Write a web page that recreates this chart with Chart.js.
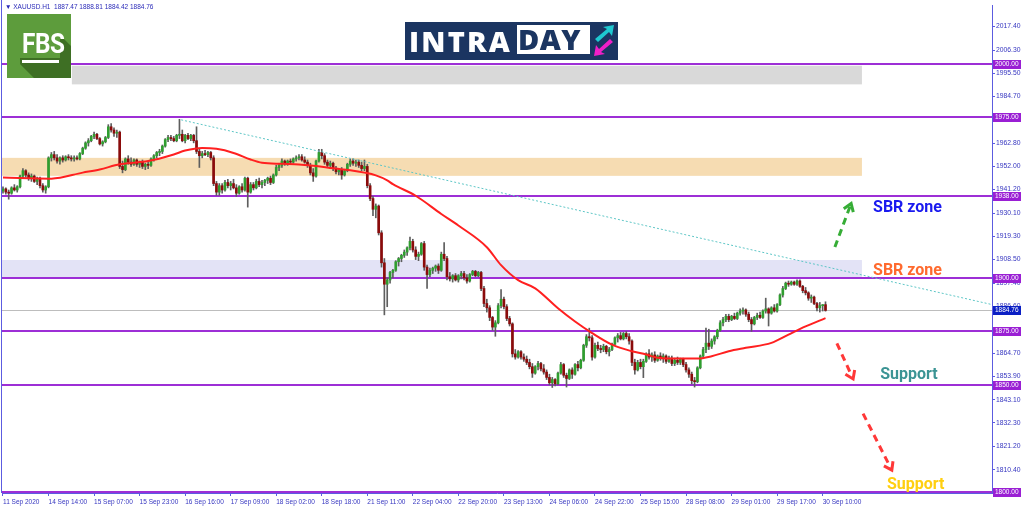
<!DOCTYPE html>
<html><head><meta charset="utf-8">
<script src="https://cdn.jsdelivr.net/npm/chart.js@4.4.0/dist/chart.umd.min.js"></script>
<style>
html,body{margin:0;padding:0;background:#fff;overflow:hidden}
#wrap{position:relative;width:1024px;height:511px}
#c{position:absolute;left:0;top:0}
#hdr{position:absolute;left:5px;top:3px;font:6.5px 'Liberation Sans',Arial,sans-serif;color:#2a2ab8;white-space:nowrap;line-height:8px}
#fbs{position:absolute;left:7px;top:14px;width:64px;height:64px;background:#5d9c3c;overflow:hidden}
#fbs .sh{position:absolute;left:0;top:0;width:64px;height:64px;background:#3e6f24;clip-path:polygon(53px 21px,64px 32px,64px 64px,27px 64px,13px 50px,13px 44px,53px 44px)}
#fbs .t{position:absolute;left:13px;top:14px;width:42px;text-align:center;font:700 27px 'Roboto',sans-serif;color:#fff;letter-spacing:-0.5px;transform:scaleX(0.9)}
#fbs .u{position:absolute;left:15px;top:46px;width:37px;height:3px;background:#fff}
#intra{position:absolute;left:405px;top:22px;width:213px;height:38px;background:#1b3561}
#intra .a{position:absolute;left:4px;top:1px;font:800 29px 'Open Sans',sans-serif;color:#fff;letter-spacing:2.2px;line-height:36px}
#intra .b{position:absolute;left:112px;top:3px;width:73px;height:29px;background:#fff}
#intra .b span{position:absolute;left:1px;top:-4px;font:800 29px 'Open Sans',sans-serif;color:#1b3561;letter-spacing:0.5px;line-height:36px}
#intra svg{position:absolute;left:186px;top:2px}
</style></head>
<body><div id="wrap">
<canvas id="c" width="1024" height="511"></canvas>
<div id="hdr">&#9660; XAUUSD.H1&nbsp; 1887.47 1888.81 1884.42 1884.76</div>
<div id="fbs"><div class="sh"></div><div class="t">FBS</div><div class="u"></div></div>
<div id="intra"><div class="a">INTRA</div><div class="b"><span>DAY</span></div>
<svg width="26" height="34" viewBox="0 0 26 34"><polygon points="4,15 16,5 12,3 23,1 21,12 18,8 7,18" fill="#1ec8d0"/><polygon points="22,18 10,28 14,30 3,32 5,21 8,25 19,15" fill="#f01fc8"/></svg>
</div>
</div>
<script>
// ---- data ----
const xTickIdx = [0,16,32,48,64,80,96,112,128,144,160,176,192,208,224,240,256,272,288];
const xTickLabels = ["11 Sep 2020","14 Sep 14:00","15 Sep 07:00","15 Sep 23:00","16 Sep 16:00","17 Sep 09:00","18 Sep 02:00","18 Sep 18:00","21 Sep 11:00","22 Sep 04:00","22 Sep 20:00","23 Sep 13:00","24 Sep 06:00","24 Sep 22:00","25 Sep 15:00","28 Sep 08:00","29 Sep 01:00","29 Sep 17:00","30 Sep 10:00"];
const yTicks = [2017.40,2006.30,1995.50,1984.70,1973.90,1962.80,1952.00,1941.20,1930.10,1919.30,1908.50,1897.40,1886.60,1875.80,1864.70,1853.90,1843.10,1832.30,1821.20,1810.40];
const levels = [2000,1975,1938,1900,1875,1850,1800];
const bidPrice = 1884.76;

const opens = [
1940.5,1941.5,1940,1939.5,1942,1941,1942.5,1947.5,1950,1948,
1946.5,1947.5,1945,1946.5,1943,1941,1942.5,1956,1957.5,1956,
1954.5,1956,1955,1956.5,1956,1955.5,1956,1955.5,1958,1960.5,
1963,1964,1966,1967,1965,1962.5,1963.5,1965.5,1970.5,1969,
1967.5,1968,1952,1950.5,1955.5,1954,1953,1955,1953,1954,
1952,1953,1952.5,1955.5,1957,1958.5,1959,1961.5,1964.5,1965.5,
1965,1964,1966.5,1967,1964,1966.5,1965,1966.5,1964,1959,
1957,1958,1957.5,1958.5,1956,1944,1940,1943,1941,1944.5,
1943,1944,1942,1939.5,1942.5,1941,1946.5,1940,1943.5,1942,
1945,1943.5,1944.5,1945.5,1946.5,1944.5,1948,1951.5,1952.5,1954.5,
1953.5,1954.5,1954,1955.5,1956,1956.5,1955,1954,1952.5,1949,
1947.5,1954.5,1958.5,1957,1954,1952.5,1953.5,1951,1949.5,1950.5,
1948,1950,1953,1954.5,1953.5,1954,1952.5,1951,1952,1943,
1937,1932,1933.5,1921,1907,1897,1899,1902.5,1903.5,1907.5,
1909,1910.5,1912,1914,1917,1913,1910,1911,1916,1905,
1901.5,1903.5,1904.5,1905.5,1903.5,1911,1909,1900.5,1899.5,1901,
1899,1901,1902,1900,1898.5,1901.5,1903,1901,1902.5,1895,
1888,1886,1881.5,1877,1879,1887,1890,1886.5,1881,1878.5,
1864.5,1863,1865.5,1863,1862,1860.5,1858.5,1855.5,1858.5,1860,
1857.5,1856,1853.5,1851,1852.5,1850.5,1855.5,1859.5,1854.5,1853,
1857,1855,1859.5,1858,1861.5,1868.5,1872.5,1872,1863,1868.5,
1867,1866.5,1868,1865.5,1866.5,1869,1872,1873,1871.5,1874,
1872.5,1870.5,1860.5,1857,1860.5,1858.5,1861,1864.5,1863,1864,
1861.5,1863.5,1862.5,1863.5,1861,1862.5,1860,1861.5,1860.5,1862,
1859.5,1857,1855,1852,1851.5,1858,1863.5,1866.5,1869.5,1868,
1870.5,1872.5,1875.5,1879,1880.5,1882,1880.5,1882,1881,1883.5,
1884.5,1885,1883,1880.5,1878.5,1881.5,1882.5,1881.5,1884.5,1885.5,
1883.5,1886,1884.5,1887.5,1892,1895,1897.5,1897,1898,1897,
1898.5,1896,1894,1893,1890.5,1891,1888,1886,1887,1887.47];
const highs = [
1942.5,1942,1941,1942.5,1943.5,1943,1948,1951,1950.5,1949,
1948.5,1948,1947,1947,1944,1943,1956.5,1958.5,1959,1957.5,
1956.5,1957,1957,1957.5,1957,1957,1957,1958.5,1961,1963.5,
1965,1966.5,1968,1967.5,1965.5,1964,1966,1971.5,1972,1970,
1969,1968.5,1954.5,1956,1957,1956,1955.5,1955.5,1954.5,1955,
1953.5,1954,1956,1957.5,1959,1960,1962,1965,1966.5,1966.5,
1966,1967,1974,1969,1967,1967.5,1967,1967,1970.5,1960,
1959,1959.5,1959,1959,1957,1945,1944,1944,1945.5,1946,
1945,1946,1943.5,1943,1944,1947,1947,1944.5,1944.5,1946,
1946.5,1945.5,1946,1947,1947.5,1948.5,1952.5,1953.5,1955.5,1955,
1955,1955.5,1956,1957,1957.5,1957.5,1956.5,1955,1953.5,1951,
1955,1960,1960,1958,1955,1954.5,1954,1952,1951,1951.5,
1950.5,1953.5,1955.5,1955.5,1955,1955,1954,1955,1953,1944,
1938,1934.5,1934,1922,1909,1900,1903,1904,1908,1909.5,
1911,1913,1914.5,1919,1918,1914.5,1912,1916.5,1917,1906,
1904.5,1905,1906,1906.5,1912,1916.5,1910,1902.5,1901.5,1902,
1901.5,1903,1903,1901.5,1902,1903.5,1903.5,1903,1903,1896,
1890,1887,1882,1880,1888,1894.5,1891,1887.5,1882,1879,
1866.5,1866,1866,1864.5,1863.5,1862,1860,1859,1861,1860.5,
1859.5,1857,1855,1853.5,1853,1856,1860.5,1860,1855.5,1857.5,
1858,1860,1861,1862,1869,1873.5,1876.5,1873,1869.5,1870,
1868.5,1869,1868.5,1867.5,1869.5,1872.5,1874,1874.5,1874.5,1875,
1874,1871,1862,1861.5,1862,1862,1865,1866.5,1865,1865.5,
1864,1865,1864.5,1864,1863.5,1863.5,1862.5,1863,1862.5,1862.5,
1860.5,1858,1856,1853.5,1858.5,1864,1867.5,1876.5,1876,1871.5,
1873,1876,1880,1881.5,1883,1883,1882.5,1883.5,1884,1885.5,
1886,1885.5,1884,1881.5,1882,1883.5,1884,1885,1890.5,1886,
1886.5,1887.5,1888,1892.5,1896,1898,1898.5,1898.5,1898.5,1899,
1899,1896.5,1895.5,1893.5,1892,1891.5,1888.5,1888.5,1887.5,1888.81];
const lows = [
1939.5,1939,1936.7,1939,1940.5,1940,1942,1946.5,1947,1945.5,
1945,1944.5,1943.5,1942,1940,1939.5,1942,1954.5,1955,1953.5,
1953,1954,1954.5,1955,1954.5,1954.5,1955,1955,1957.5,1960,
1961.5,1963.5,1965,1964.5,1962,1961.5,1963,1965,1968,1966,
1965.5,1951,1949,1950,1953,1952,1952.5,1952,1951.5,1951,
1950.5,1951,1952,1954.5,1956,1957,1958,1961,1963.5,1964,
1963.5,1963.5,1965,1963.5,1963,1964.5,1964,1963,1958,1951.5,
1956,1957,1956.5,1955,1943,1938.5,1938.5,1939.5,1940.5,1942,
1941,1941.5,1938,1939,1940,1940.5,1933,1939.5,1941,1941.5,
1942.5,1942,1943,1944,1943.5,1944,1947.5,1950,1951.5,1952.5,
1952.5,1953,1953.5,1954.5,1955,1954.5,1953.5,1951.5,1948,1945,
1947,1954,1955.5,1953,1951.5,1951,1950,1948.5,1948,1946,
1947.5,1949.5,1952,1952.5,1952,1951.5,1950,1950,1942,1936,
1929,1928,1920,1905,1882.7,1886.5,1897.5,1900,1903,1905.5,
1907.5,1909.5,1910.5,1913,1912,1908.5,1908,1910.5,1903.5,1895,
1900.5,1902,1903,1902,1903,1908,1899,1898.5,1898,1898.5,
1898,1899.5,1899,1897.5,1898,1901,1900.5,1900.5,1894,1886.5,
1884,1880,1875.5,1872.7,1878.5,1886,1885.5,1880,1877.5,1863,
1862,1862.5,1862,1861,1859.5,1857.5,1853.5,1855,1857,1856.5,
1855,1852.5,1850,1848.8,1849.5,1850,1855,1853.5,1849,1852.5,
1853,1854.5,1856.5,1857.5,1861,1867.5,1870.5,1861.5,1862.5,1866,
1865,1865.5,1864.5,1863.5,1866,1868.5,1870,1871,1871,1871.5,
1869,1859,1855,1856.5,1857.5,1853.4,1860.5,1862,1861,1860.5,
1861,1861.5,1860.5,1860,1860.5,1859,1859,1859.5,1859.5,1858.5,
1856,1853.5,1850.5,1849,1851,1857.5,1862.5,1865,1866.5,1867,
1869,1871.5,1875,1877.5,1879.5,1879.5,1880,1880.5,1880.5,1882.5,
1883,1882,1879.5,1875,1878,1880.5,1881,1881,1883.5,1877.5,
1883,1884,1884,1887,1891,1894.5,1896,1896.5,1896.5,1896.5,
1895.5,1893,1892,1889.5,1888.5,1887.5,1884.5,1884,1884.5,1884.42];
const closes = [
1941.5,1940,1939.5,1942,1941,1942.5,1947.5,1950,1948,1946.5,
1947.5,1945,1946.5,1943,1941,1942.5,1956,1957.5,1956,1954.5,
1956,1955,1956.5,1956,1955.5,1956,1955.5,1958,1960.5,1963,
1964,1966,1967,1965,1962.5,1963.5,1965.5,1970.5,1969,1967.5,
1968,1952,1950.5,1955.5,1954,1953,1955,1953,1954,1952,
1953,1952.5,1955.5,1957,1958.5,1959,1961.5,1964.5,1965.5,1965,
1964,1966.5,1967,1964,1966.5,1965,1966.5,1964,1959,1957,
1958,1957.5,1958.5,1956,1944,1940,1943,1941,1944.5,1943,
1944,1942,1939.5,1942.5,1941,1946.5,1940,1943.5,1942,1945,
1943.5,1944.5,1945.5,1946.5,1944.5,1948,1951.5,1952.5,1954.5,1953.5,
1954.5,1954,1955.5,1956,1956.5,1955,1954,1952.5,1949,1947.5,
1954.5,1958.5,1957,1954,1952.5,1953.5,1951,1949.5,1950.5,1948,
1950,1953,1954.5,1953.5,1954,1952.5,1951,1952,1943,1937,
1932,1933.5,1921,1907,1897,1899,1902.5,1903.5,1907.5,1909,
1910.5,1912,1914,1917,1913,1910,1911,1916,1905,1901.5,
1903.5,1904.5,1905.5,1903.5,1911,1909,1900.5,1899.5,1901,1899,
1901,1902,1900,1898.5,1901.5,1903,1901,1902.5,1895,1888,
1886,1881.5,1877,1879,1887,1890,1886.5,1881,1878.5,1864.5,
1863,1865.5,1863,1862,1860.5,1858.5,1855.5,1858.5,1860,1857.5,
1856,1853.5,1851,1852.5,1850.5,1855.5,1859.5,1854.5,1853,1857,
1855,1859.5,1858,1861.5,1868.5,1872.5,1872,1863,1868.5,1867,
1866.5,1868,1865.5,1866.5,1869,1872,1873,1871.5,1874,1872.5,
1870.5,1860.5,1857,1860.5,1858.5,1861,1864.5,1863,1864,1861.5,
1863.5,1862.5,1863.5,1861,1862.5,1860,1861.5,1860.5,1862,1859.5,
1857,1855,1852,1851.5,1858,1863.5,1866.5,1869.5,1868,1870.5,
1872.5,1875.5,1879,1880.5,1882,1880.5,1882,1881,1883.5,1884.5,
1885,1883,1880.5,1878.5,1881.5,1882.5,1881.5,1884.5,1885.5,1883.5,
1886,1884.5,1887.5,1892,1895,1897.5,1897,1898,1897,1898.5,
1896,1894,1893,1890.5,1891,1888,1886,1887,1887.47,1884.76];

// moving average read at selected bars
const maIdx = [0,17,28,34,41,51,60,64,70,75,81,87,91,98,104,110,116,122,127,131,135,137,145,154,160,170,175,181,187,195,201,207,214,221,226,230,237,244,249,255,261,270,276,282,289];
const maVal = [1946.8,1946.3,1949.1,1950.6,1953.0,1954.5,1957.6,1959.4,1960.6,1960.2,1958.3,1955.2,1953.7,1953.2,1952.9,1952.2,1951.1,1950.2,1949.1,1947.8,1945.5,1943.7,1938.3,1929.8,1924.4,1914.3,1905.9,1898.9,1895.1,1885.8,1879.6,1874.2,1868.8,1865.7,1864.2,1862.7,1862.3,1862.3,1863.4,1865.7,1867.3,1869.6,1873.5,1877.3,1881.2];

// trend line (bar index, price)
const trendIdx = [62.6, 347.5];
const trendVal = [1973.75, 1887.5];

// zones: [fromBar (null = left edge), toBar, low, high]
const zoneGray = [24.2, 301.8, 1990.3, 1999.0];
const zoneOrange = [null, 301.8, 1947.6, 1956.0];
const zoneLav = [null, 301.8, 1900.0, 1908.3];

// arrows: [fromBar, fromPrice, toBar, toPrice]
const arrowUp = [292.3, 1914.4, 298.0, 1934.7];
const arrowDn1 = [293.0, 1869.4, 298.7, 1852.8];
const arrowDn2 = [302.2, 1836.6, 312.3, 1810.2];

// annotation labels: [text, bar, price]
const noteTexts = ["SBR zone","SBR zone","Support","Support"];
const noteBars = [305.7, 305.7, 308.2, 310.6];
const notePrices = [1932.4, 1903.2, 1854.4, 1803.2];

// ---- chart ----
const wickData = closes.map((c,i)=>({x:i, y:[lows[i], highs[i]]}));
const bodyData = closes.map((c,i)=>({x:i, y:[opens[i], c]}));
const bodyColors = closes.map((c,i)=> c >= opens[i] ? '#2f9e2f' : '#8b0b0b');
const maData = maIdx.map((b,k)=>({x:b, y:maVal[k]}));
const trendData = trendIdx.map((b,k)=>({x:b, y:trendVal[k]}));

const AX = '#5c5ce0', TXT = '#3535c0', LVL = '#9d2fd6';
const noteColors = ['#1a1aef','#ff6a2e','#3b9494','#ffcf10'];

const overlay = {
  id:'overlay',
  beforeDatasetsDraw(chart){
    const {ctx, chartArea:a, scales:{x,y}} = chart;
    ctx.save();
    ctx.beginPath(); ctx.rect(a.left, a.top, a.right-a.left, a.bottom-a.top); ctx.clip();
    const zone=(z,col)=>{
      const x0 = z[0]===null ? a.left : x.getPixelForValue(z[0]);
      const x1 = x.getPixelForValue(z[1]);
      const y0 = y.getPixelForValue(z[3]), y1 = y.getPixelForValue(z[2]);
      ctx.fillStyle = col; ctx.fillRect(x0, y0, x1-x0, y1-y0);
    };
    zone(zoneGray,'#d9d9d9');
    zone(zoneOrange,'#f6dcb2');
    zone(zoneLav,'#e3e3f6');
    ctx.strokeStyle='#bdbdbd'; ctx.lineWidth=1;
    let yb = Math.round(y.getPixelForValue(bidPrice))+0.5;
    ctx.beginPath(); ctx.moveTo(a.left,yb); ctx.lineTo(a.right,yb); ctx.stroke();
    ctx.strokeStyle=LVL; ctx.lineWidth=2;
    levels.forEach(v=>{
      const yy = Math.round(y.getPixelForValue(v));
      ctx.beginPath(); ctx.moveTo(a.left,yy); ctx.lineTo(a.right,yy); ctx.stroke();
    });
    ctx.restore();
  },
  afterDraw(chart){
    const {ctx, chartArea:a, scales:{x,y}} = chart;
    ctx.save();
    ctx.strokeStyle=AX; ctx.lineWidth=1;
    ctx.beginPath(); ctx.moveTo(a.left-0.5,0); ctx.lineTo(a.left-0.5,a.bottom); ctx.stroke();
    const arrow=(ar,col)=>{
      const x0=x.getPixelForValue(ar[0]), y0=y.getPixelForValue(ar[1]);
      const x1=x.getPixelForValue(ar[2]), y1=y.getPixelForValue(ar[3]);
      const ang=Math.atan2(y1-y0,x1-x0);
      ctx.strokeStyle=col; ctx.lineWidth=3; ctx.lineCap='butt';
      ctx.setLineDash([7,5]);
      ctx.beginPath(); ctx.moveTo(x0,y0); ctx.lineTo(x1-Math.cos(ang)*3,y1-Math.sin(ang)*3); ctx.stroke();
      ctx.setLineDash([]);
      const L=9, s=0.6;
      ctx.beginPath();
      ctx.moveTo(x1-L*Math.cos(ang-s), y1-L*Math.sin(ang-s));
      ctx.lineTo(x1,y1);
      ctx.lineTo(x1-L*Math.cos(ang+s), y1-L*Math.sin(ang+s));
      ctx.stroke();
    };
    arrow(arrowUp,'#36ad36');
    arrow(arrowDn1,'#ff3838');
    arrow(arrowDn2,'#ff3838');
    ctx.font='700 16px Roboto, sans-serif'; ctx.textBaseline='middle'; ctx.textAlign='left';
    noteTexts.forEach((t,k)=>{
      ctx.fillStyle=noteColors[k];
      ctx.fillText(t, x.getPixelForValue(noteBars[k]), y.getPixelForValue(notePrices[k]));
    });
    const tag=(v,bg)=>{
      const yy=Math.round(y.getPixelForValue(v));
      ctx.fillStyle=bg; ctx.fillRect(a.right+1, yy-4, 28, 9);
      ctx.fillStyle='#fff'; ctx.font='6.5px "Liberation Sans", Arial, sans-serif';
      ctx.textBaseline='middle'; ctx.textAlign='left';
      ctx.fillText(v.toFixed(2), a.right+3, yy+0.5);
    };
    levels.forEach(v=>tag(v,'#9a1fd4'));
    tag(bidPrice,'#0b1fc4');
    ctx.restore();
  }
};

new Chart(document.getElementById('c'), {
  type:'bar',
  data:{datasets:[
    {type:'line', data:trendData, borderColor:'#5ec6c6', borderWidth:1, borderDash:[2,2], pointRadius:0, order:0},
    {type:'line', data:maData, borderColor:'#ff2020', borderWidth:2, pointRadius:0, tension:0.4, cubicInterpolationMode:'monotone', order:1},
    {data:bodyData, backgroundColor:bodyColors, barThickness:2, grouped:false, minBarLength:1, order:2},
    {data:wickData, backgroundColor:'#5e5e5e', barThickness:1, grouped:false, order:3}
  ]},
  options:{
    responsive:false, animation:false, devicePixelRatio:1, events:[],
    layout:{padding:{left:2, top:1, right:0, bottom:0}},
    plugins:{legend:{display:false}, tooltip:{enabled:false}},
    scales:{
      x:{type:'linear', position:'bottom', min:-0.35, max:347.5, offset:false,
        afterBuildTicks:s=>{ s.ticks = xTickIdx.map(v=>({value:v})); },
        afterFit:s=>{ s.height = 18; },
        ticks:{autoSkip:false, maxRotation:0, align:'start', padding:2, color:TXT,
          font:{family:'Liberation Sans', size:6.5},
          callback:(v)=>{ const k=xTickIdx.indexOf(v); return k>=0 ? xTickLabels[k] : ''; }},
        grid:{drawOnChartArea:false, drawTicks:true, tickLength:3, color:AX, offset:false},
        border:{display:true, color:AX, width:1}
      },
      y:{type:'linear', position:'right', min:1799.54, max:2027.32,
        afterBuildTicks:s=>{ s.ticks = yTicks.map(v=>({value:v})); },
        afterFit:s=>{ s.width = 32; },
        ticks:{autoSkip:false, padding:1, color:TXT, font:{family:'Liberation Sans', size:6.8},
          callback:v=>Number(v).toFixed(2)},
        grid:{drawOnChartArea:false, drawTicks:true, tickLength:3, color:AX},
        border:{display:true, color:AX, width:1}
      }
    }
  },
  plugins:[overlay]
});
</script>
</body></html>
